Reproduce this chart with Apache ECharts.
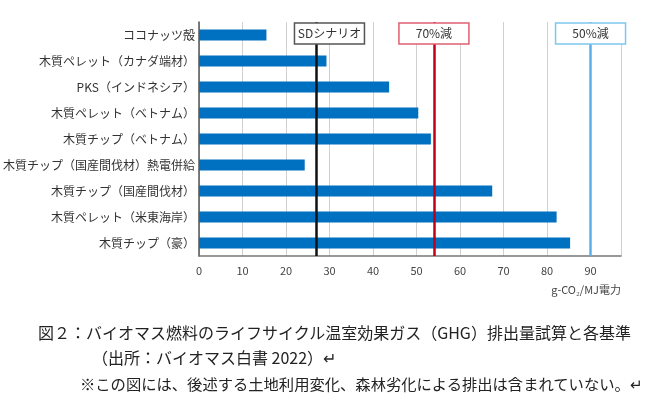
<!DOCTYPE html>
<html><head><meta charset="utf-8">
<script src="https://cdn.jsdelivr.net/npm/echarts@6/dist/echarts.min.js"></script>
<style>
body{margin:0;background:#fff;}
#c{width:650px;height:416px;}
.cap{position:absolute;font-family:"Noto Sans CJK JP";font-size:16px;color:#222;white-space:nowrap;}
</style></head>
<body>
<div id="c"></div>
<div class="cap" style="left:38px;top:320px;">図２：バイオマス燃料のライフサイクル温室効果ガス（GHG）排出量試算と各基準</div>
<div class="cap" style="left:92px;top:345px;">（出所：バイオマス白書 2022）↵</div>
<div class="cap" style="left:80px;top:372px;font-size:15.3px;">※この図には、後述する土地利用変化、森林劣化による排出は含まれていない。↵</div>
<script>
var categories = ['ココナッツ殻','木質ペレット（カナダ端材）','PKS（インドネシア）','木質ペレット（ベトナム）','木質チップ（ベトナム）','木質チップ（国産間伐材）熱電併給','木質チップ（国産間伐材）','木質ペレット（米東海岸）','木質チップ（豪）'];
var values = [15.5, 29.3, 43.7, 50.4, 53.3, 24.3, 67.4, 82.2, 85.3];
var refNames = ['SDシナリオ','70%減','50%減'];
var refValues = [27, 54, 90];
var refColors = ['#111111','#C00018','#5BAEEA'];
var refBorders = ['#555555','#E06070','#7EC8F0'];
var refOffsets = [13, 0, 0];

var chart = echarts.init(document.getElementById('c'));
var font = 'Noto Sans CJK JP';
chart.setOption({
  animation:false,
  grid:{left:195,right:29,top:22,bottom:160},
  xAxis:{type:'value',min:0,max:97,interval:10,
    axisLine:{show:true,lineStyle:{color:'#777',width:1.5}},axisTick:{show:false},
    axisLabel:{color:'#444',fontSize:11,fontFamily:font,margin:9,
      formatter:function(v){return v<=90?v:'';}},
    splitLine:{lineStyle:{color:'#d0d0d0',width:1}}},
  yAxis:{type:'category',data:categories,inverse:true,
    axisLine:{show:true,lineStyle:{color:'#555',width:1.5}},axisTick:{show:false},
    axisLabel:{color:'#333',fontSize:12,fontFamily:font,margin:4}},
  series:[{type:'bar',data:values,barWidth:11,itemStyle:{color:'#0070C0'},
    markLine:{symbol:'none',silent:true,label:{show:false},
      data:refValues.map(function(v,i){return {xAxis:v,lineStyle:{color:refColors[i],width:2.5,type:'solid'}};})}}]
});
var g = [];
refValues.forEach(function(v,i){
  var x = chart.convertToPixel({xAxisIndex:0},v) + refOffsets[i];
  g.push({type:'rect',shape:{x:x-35,y:23,width:70,height:21},
    style:{fill:'#fff',stroke:refBorders[i],lineWidth:1.5},z:100});
  g.push({type:'text',x:x,y:33.5,style:{text:refNames[i],fontSize:12,fontFamily:font,fill:'#333',align:'center',verticalAlign:'middle'},z:101});
});
g.push({type:'text',right:29,top:284,style:{text:'g-CO₂/MJ電力',fontSize:11,fontFamily:font,fill:'#444'}});
chart.setOption({graphic:g});
</script>
</body></html>
